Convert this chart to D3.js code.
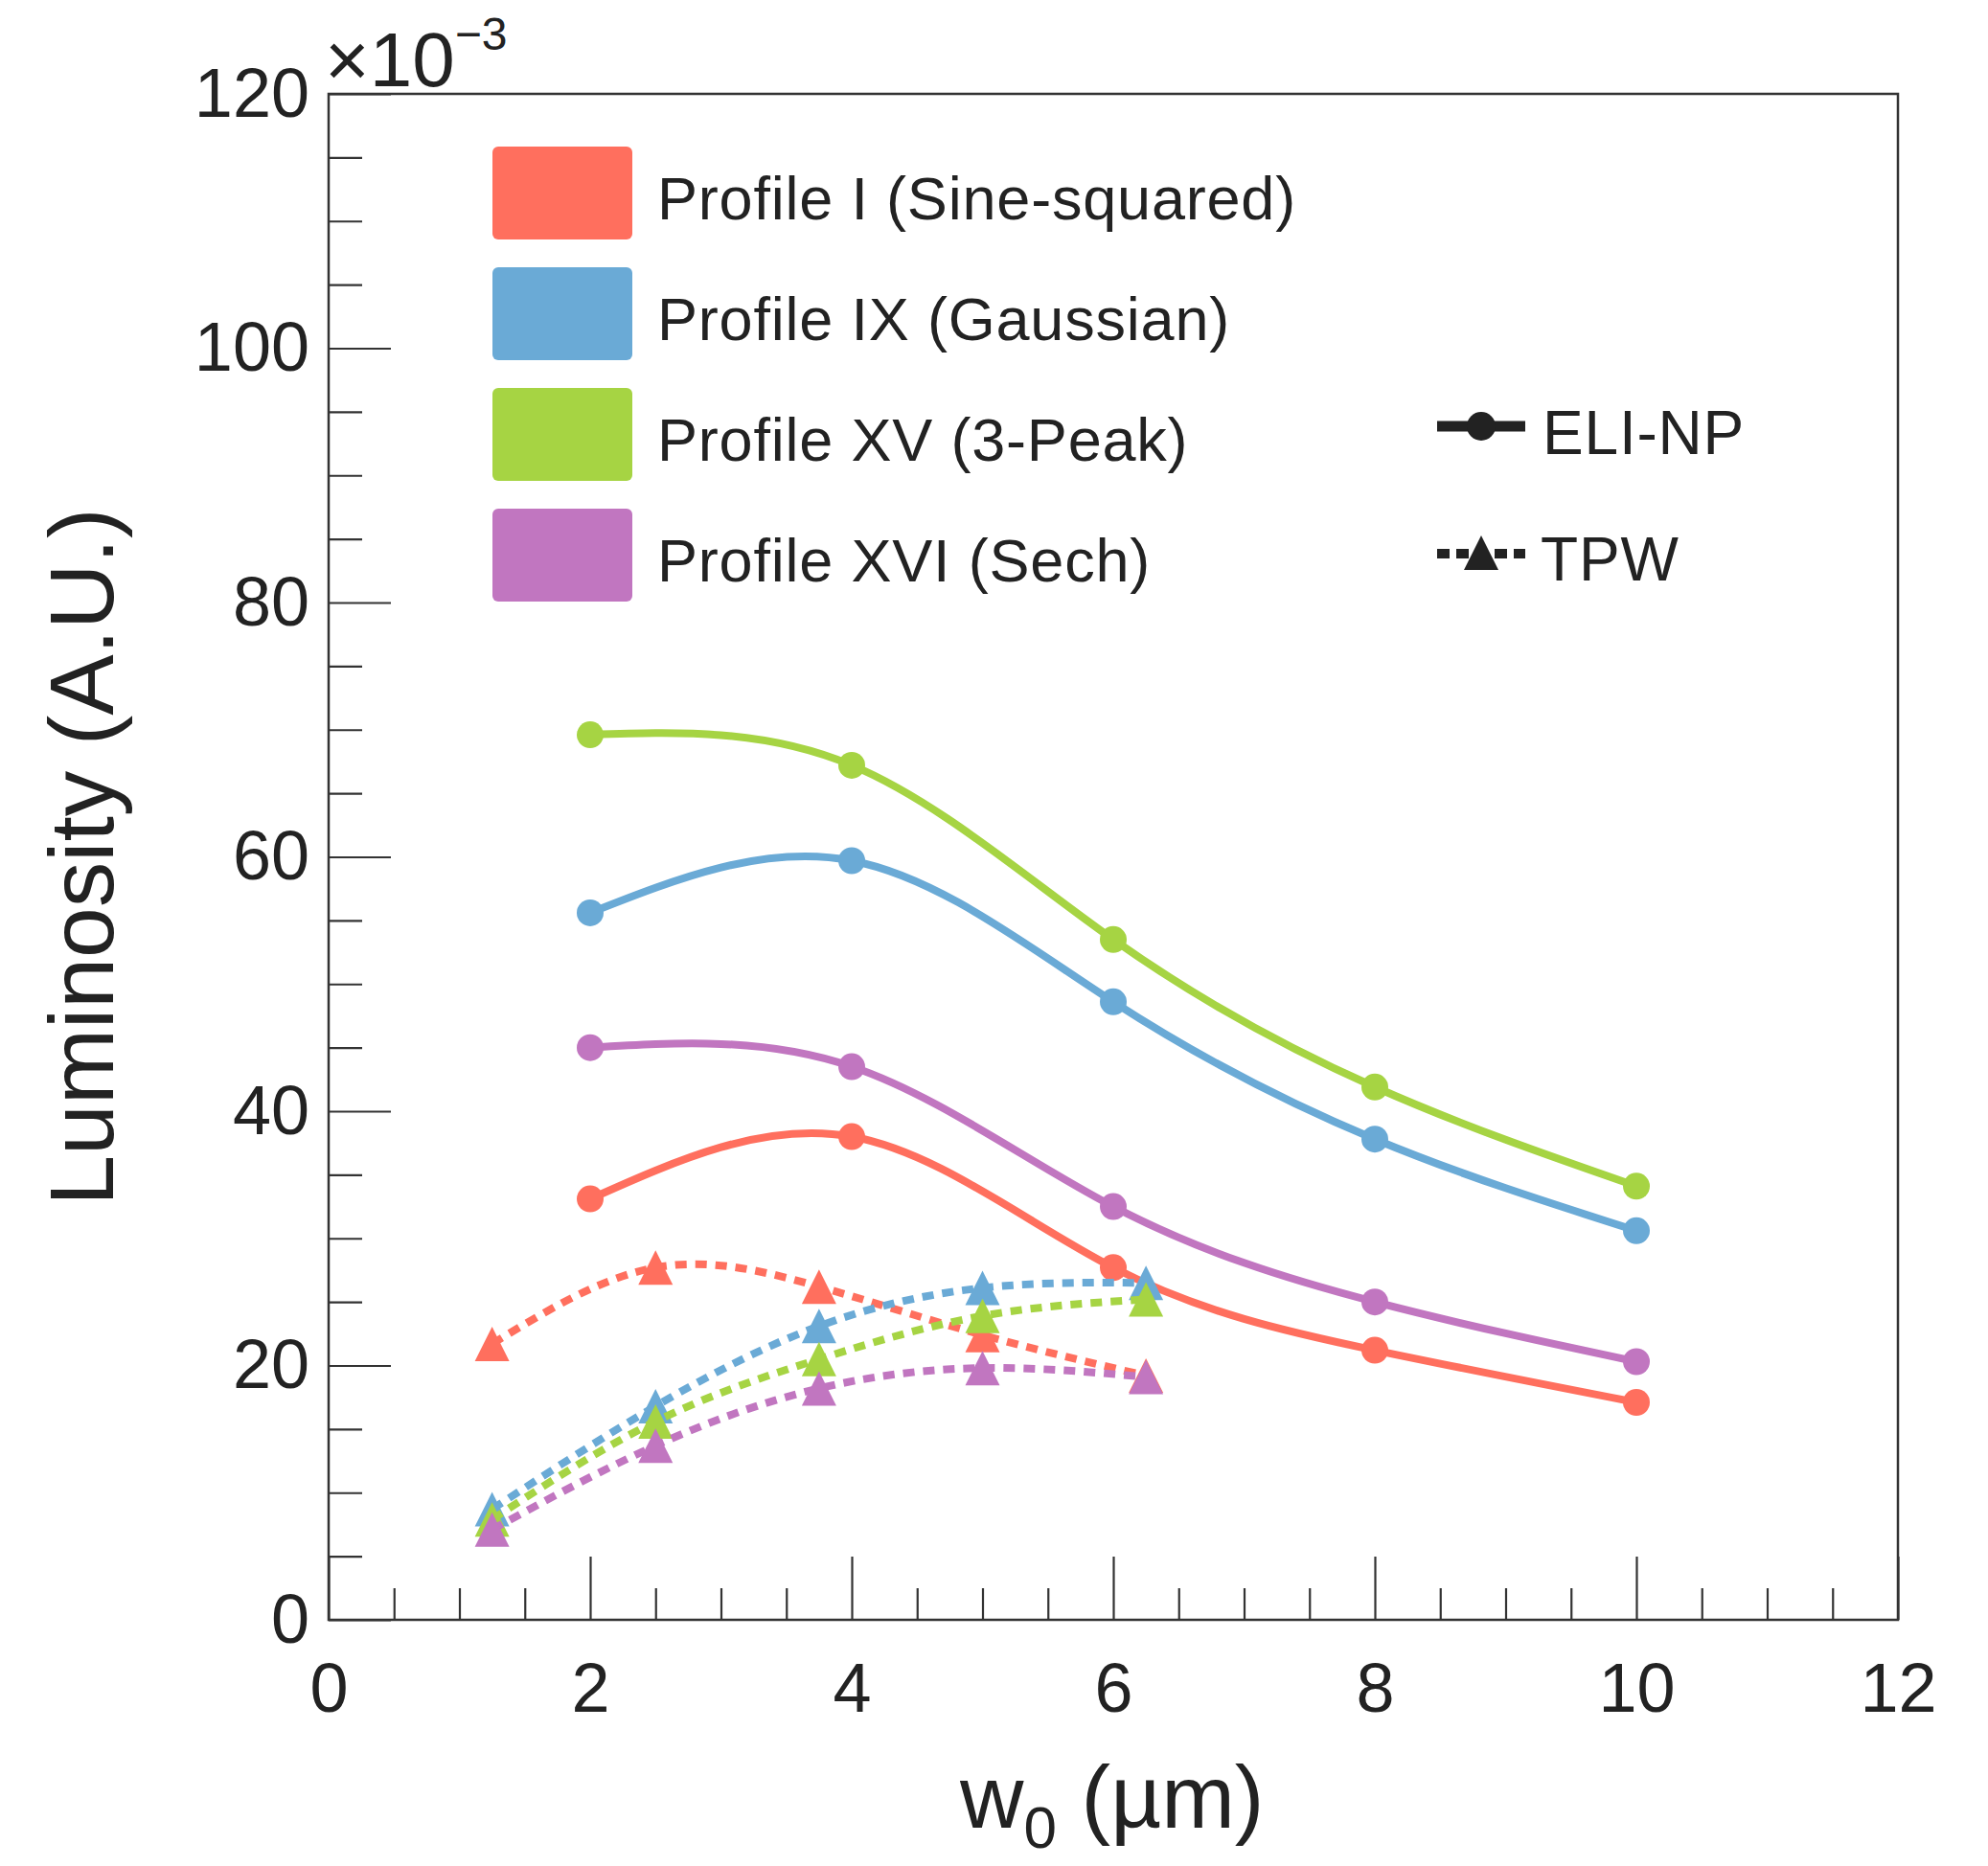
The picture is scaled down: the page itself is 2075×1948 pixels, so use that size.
<!DOCTYPE html>
<html>
<head>
<meta charset="utf-8">
<script src="https://cdn.jsdelivr.net/npm/d3@7"></script>
<style>
  html, body { margin: 0; padding: 0; background: #fff; }
  svg { display: block; font-family: "Liberation Sans", Arial, Helvetica, sans-serif; }
  .axis text { fill: #222; }
  .axis path, .axis line { stroke: #333; }
</style>
</head>
<body>
<svg id="chart" width="2075" height="1948"></svg>
<script>
// beam waist w0 (um) for the two laser systems
const ELI_W = [2, 4, 6, 8, 10];
const TPW_W = [1.25, 2.5, 3.75, 5, 6.25];

const PROFILES = [
  "Profile I (Sine-squared)",
  "Profile IX (Gaussian)",
  "Profile XV (3-Peak)",
  "Profile XVI (Sech)",
];
const COLORS = ["#ff6f5e", "#6aaad6", "#a6d443", "#c176c0"];

// luminosity, units of 1e-3 A.U.
const ELI_LUM = [
  [33.1, 38.0, 27.7, 21.2, 17.1],
  [55.6, 59.7, 48.6, 37.8, 30.6],
  [69.6, 67.2, 53.5, 41.9, 34.1],
  [45.0, 43.5, 32.5, 25.0, 20.3],
];
const TPW_LUM = [
  [21.7, 27.7, 26.2, 22.4, 19.2],
  [8.7, 16.8, 23.1, 26.1, 26.5],
  [7.9, 15.6, 20.5, 23.9, 25.2],
  [7.1, 13.7, 18.2, 19.8, 19.1],
];

const X_MAJOR = [0, 2, 4, 6, 8, 10, 12];
const Y_MAJOR = [0, 20, 40, 60, 80, 100, 120];

const svg = d3.select("#chart");
const L = 343, R = 1981, T = 98, B = 1691;

const x = d3.scaleLinear().domain([0, 12]).range([L, R]);
const y = d3.scaleLinear().domain([0, 120]).range([B, T]);

// ---- axes ----
const xMinor = d3.range(0, 12.001, 0.5).filter((v) => v % 2 !== 0);
const yMinor = d3.range(0, 120.001, 5).filter((v) => v % 20 !== 0);

svg.append("g").attr("class", "axis")
  .attr("transform", `translate(0,${B})`)
  .call(d3.axisBottom(x).tickValues(xMinor).tickSize(-33).tickFormat(""))
  .call((g) => g.select(".domain").remove())
  .selectAll("line").attr("stroke-width", 2.2);
svg.append("g").attr("class", "axis")
  .attr("transform", `translate(0,${B})`)
  .call(d3.axisBottom(x).tickValues(X_MAJOR).tickSize(-66).tickPadding(45)
    .tickFormat(d3.format("d")))
  .call((g) => g.select(".domain").remove())
  .call((g) => g.selectAll("line").attr("stroke-width", 2.2))
  .call((g) => g.selectAll("text").style("font-size", "72px"));

svg.append("g").attr("class", "axis")
  .attr("transform", `translate(${L},0)`)
  .call(d3.axisLeft(y).tickValues(yMinor).tickSize(-35).tickFormat(""))
  .call((g) => g.select(".domain").remove())
  .selectAll("line").attr("stroke-width", 2.2);
svg.append("g").attr("class", "axis")
  .attr("transform", `translate(${L},0)`)
  .call(d3.axisLeft(y).tickValues(Y_MAJOR).tickSize(-65).tickPadding(20)
    .tickFormat(d3.format("d")))
  .call((g) => g.select(".domain").remove())
  .call((g) => g.selectAll("line").attr("stroke-width", 2.2))
  .call((g) => g.selectAll("text").style("font-size", "72px"));

// frame
svg.append("rect").attr("x", L).attr("y", T)
  .attr("width", R - L).attr("height", B - T)
  .attr("fill", "none").attr("stroke", "#333").attr("stroke-width", 2.5);

// exponent label
const expo = svg.append("text").attr("x", L - 4).attr("y", 90)
  .style("font-size", "80px").attr("fill", "#222");
expo.append("tspan").text("×10");
expo.append("tspan").attr("dy", -38).style("font-size", "48px").text("−3");

// axis titles
svg.append("text")
  .attr("transform", `translate(118,${(T + B) / 2}) rotate(-90)`)
  .attr("text-anchor", "middle").style("font-size", "95px").attr("fill", "#222")
  .text("Luminosity (A.U.)");
const xt = svg.append("text").attr("x", 1002).attr("y", 1908)
  .style("font-size", "92px").attr("fill", "#222");
xt.append("tspan").text("w");
xt.append("tspan").attr("dy", 21).style("font-size", "62px").text("0");
xt.append("tspan").attr("dy", -21).text(" (µm)");

// ---- curves ----
const line = d3.line().x((d) => x(d[0])).y((d) => y(d[1]))
  .curve(d3.curveNatural);
const tri = (s) => `M0,${-s / 2}L${s / 2},${s / 2}L${-s / 2},${s / 2}Z`;

ELI_LUM.forEach((vals, i) => {
  const pts = ELI_W.map((w, j) => [w, vals[j]]);
  const g = svg.append("g");
  g.append("path").datum(pts).attr("d", line)
    .attr("fill", "none").attr("stroke", COLORS[i]).attr("stroke-width", 8);
  g.selectAll("circle").data(pts).join("circle")
    .attr("cx", (d) => x(d[0])).attr("cy", (d) => y(d[1])).attr("r", 14)
    .attr("fill", COLORS[i]);
});

TPW_LUM.forEach((vals, i) => {
  const pts = TPW_W.map((w, j) => [w, vals[j]]);
  const g = svg.append("g");
  g.append("path").datum(pts).attr("d", line)
    .attr("fill", "none").attr("stroke", COLORS[i]).attr("stroke-width", 8)
    .attr("stroke-dasharray", "12 9");
  g.selectAll("path.m").data(pts).join("path").attr("class", "m")
    .attr("transform", (d) => `translate(${x(d[0])},${y(d[1])})`)
    .attr("d", tri(36)).attr("fill", COLORS[i]);
});

// ---- legends ----
const leg = svg.append("g");
PROFILES.forEach((name, i) => {
  const top = 153 + i * 126;
  leg.append("rect").attr("x", 514).attr("y", top)
    .attr("width", 146).attr("height", 97).attr("rx", 6)
    .attr("fill", COLORS[i]);
  leg.append("text").attr("x", 686).attr("y", top + 76)
    .style("font-size", "63px").style("letter-spacing", "0.8px")
    .attr("fill", "#222").text(name);
});

const sty = svg.append("g").attr("fill", "#222");
sty.append("line").attr("x1", 1500).attr("x2", 1592).attr("y1", 445).attr("y2", 445)
  .attr("stroke", "#222").attr("stroke-width", 11);
sty.append("circle").attr("cx", 1546).attr("cy", 445).attr("r", 15);
sty.append("text").attr("x", 1610).attr("y", 474)
  .style("font-size", "64px").style("letter-spacing", "0.8px").text("ELI-NP");
sty.append("line").attr("x1", 1500).attr("x2", 1592).attr("y1", 578).attr("y2", 578)
  .attr("stroke", "#222").attr("stroke-width", 10).attr("stroke-dasharray", "13 7");
sty.append("path").attr("transform", "translate(1546,577)").attr("d", tri(36));
sty.append("text").attr("x", 1608).attr("y", 606)
  .style("font-size", "64px").style("letter-spacing", "0.8px").text("TPW");
</script>
</body>
</html>
